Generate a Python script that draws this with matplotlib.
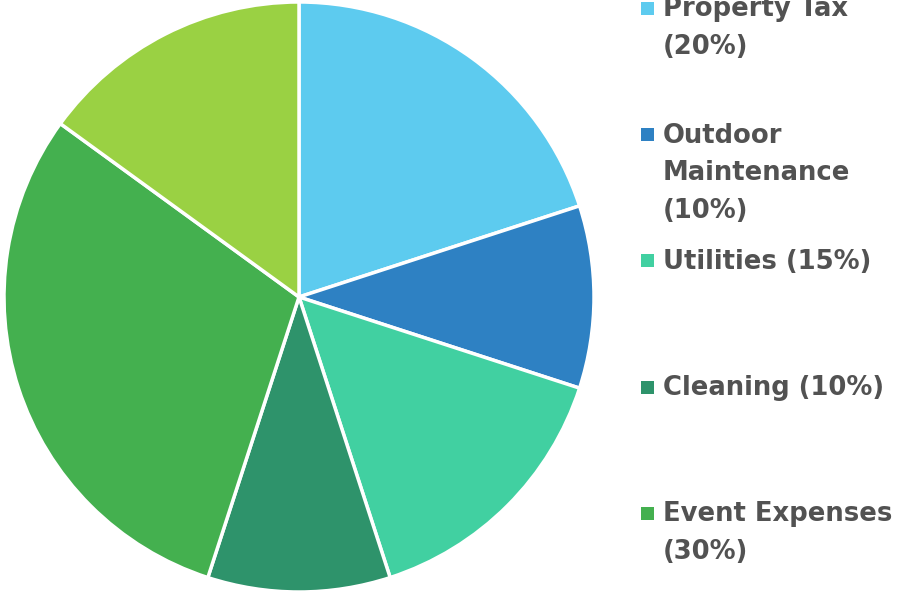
import textwrap
import matplotlib
matplotlib.use("Agg")
import matplotlib.pyplot as plt
import matplotlib.patches as patches

# data
categories = ["Property Tax", "Outdoor Maintenance", "Utilities", "Cleaning", "Event Expenses", "Other"]
shares     = [20, 10, 15, 10, 30, 15]
colours    = ["#5DCBEF", "#2E81C3", "#41D0A1", "#2E936B", "#44B04F", "#9AD143"]

W, H = 897, 591
TEXT_COL = "#525252"
FONT = "DejaVu Sans"


def fx(px):
    return px / W


def fy(py):
    # pixel row from top -> figure fraction from bottom
    return 1 - py / H


fig = plt.figure(figsize=(W / 100, H / 100), dpi=100)
fig.patch.set_facecolor("white")

# pie centred at (299, 297) px with radius 295 px
cx, cy, r = 299, 297, 295
ax = fig.add_axes([fx(cx - r), fy(cy + r), 2 * r / W, 2 * r / H])
ax.pie(shares, colors=colours, startangle=90, counterclock=False,
       wedgeprops=dict(edgecolor="white", linewidth=2.5))
ax.set_xlim(-1, 1)
ax.set_ylim(-1, 1)
ax.axis("off")

# hand-placed legend on the right
first_line = 7       # cap centre of first entry
entry_step = 126.2
line_step = 37.5
cap_half = 9.5
for i, (name, val, col) in enumerate(zip(categories, shares, colours)):
    y0 = first_line + i * entry_step
    if y0 > H:
        continue
    fig.patches.append(patches.Rectangle(
        (fx(641), fy(y0 + 8)), 13 / W, 13 / H,
        transform=fig.transFigure, facecolor=col, edgecolor="none"))
    lines = textwrap.wrap(f"{name} ({val}%)", width=15)
    for j, line in enumerate(lines):
        fig.text(fx(663), fy(y0 + j * line_step + cap_half), line,
                 ha="left", va="baseline", fontsize=18.6,
                 fontweight="bold", color=TEXT_COL, family=FONT)

fig.savefig("out.png", dpi=100)
